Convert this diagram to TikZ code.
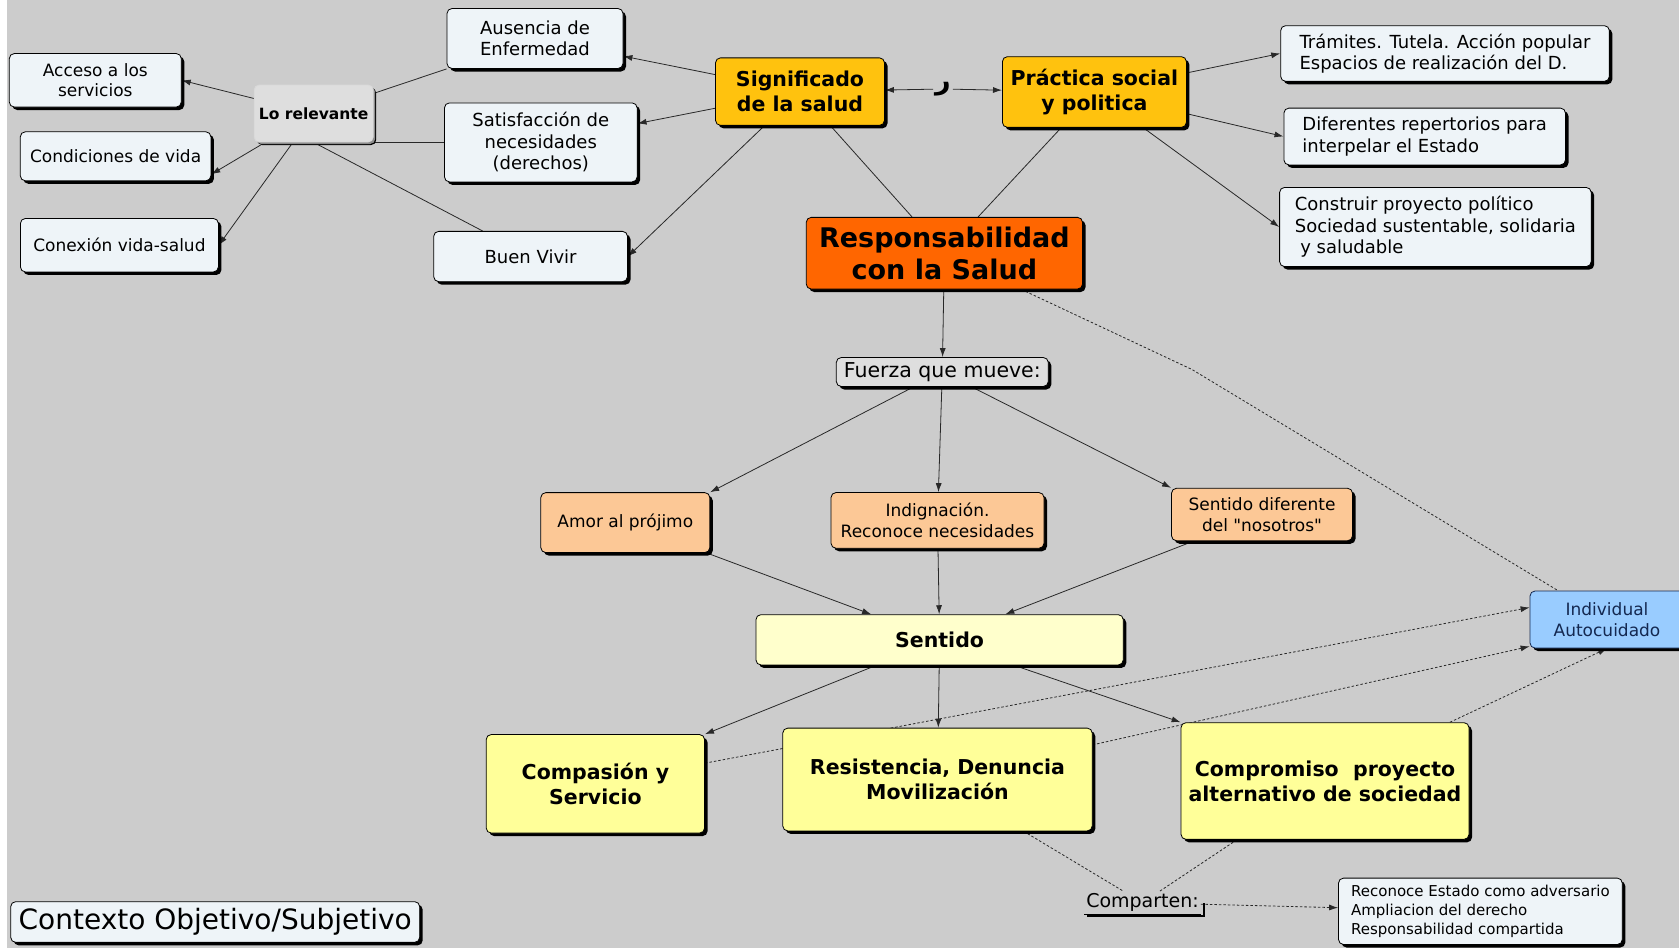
\documentclass[tikz,border=0pt]{standalone}
\usepackage{fontspec}
\setmainfont{DejaVu Sans}[Ligatures=TeXOff]
\newfontfamily\arabe[Script=Arabic]{DejaVu Sans}
\TeXXeTstate=1
\usetikzlibrary{arrows.meta,shadows}

% Colores del mapa
\definecolor{grisfondo}{RGB}{204,204,204}
\definecolor{blanquito}{RGB}{238,244,248}
\definecolor{grisclaro}{RGB}{222,222,222}
\definecolor{dorado}{RGB}{255,194,14}
\definecolor{naranja}{RGB}{255,102,0}
\definecolor{durazno}{RGB}{252,200,150}
\definecolor{crema}{RGB}{255,255,204}
\definecolor{amarillo}{RGB}{255,255,153}
\definecolor{celeste}{RGB}{153,204,255}
\definecolor{azuloscuro}{RGB}{20,40,80}
\definecolor{linea}{RGB}{40,40,40}

\pgfdeclarelayer{capafondo}
\pgfdeclarelayer{capalineas}
\pgfsetlayers{capafondo,capalineas,main}

\tikzset{
    caja/.style={draw=black, line width=0.8pt, rounded corners=5pt, fill=blanquito,
        align=center, inner sep=0pt, font=\fontsize{18}{21.5}\selectfont,
        drop shadow={shadow xshift=3pt, shadow yshift=-3pt, opacity=1, fill=black}},
    medida/.style 2 args={minimum width=#1pt, minimum height=#2pt},
    chica/.style={font=\fontsize{17}{20.5}\selectfont},
    negrita/.style={font=\fontsize{20.5}{25}\selectfont\bfseries},
    enlace/.style={draw=linea, line width=0.8pt},
    flecha/.style={enlace, -{Latex[length=9pt,width=6pt]}},
    punteado/.style={enlace, dash pattern=on 2.5pt off 2pt},
    puntflecha/.style={punteado, -{Latex[length=9pt,width=6pt]}}
}

\begin{document}
\begin{tikzpicture}[x=1pt, y=-1pt]

    % Pintamos el fondo
    \useasboundingbox (0,0) rectangle (1679,948);
    \begin{pgfonlayer}{capafondo}
        \fill[white] (0,0) rectangle (1679,948);
        \fill[grisfondo] (7,0) rectangle (1679,948);
    \end{pgfonlayer}

    % Lo relevante y sus conceptos
    \node[caja, medida={176}{60}] (ausencia) at (535,38.5) {Ausencia de\\Enfermedad};
    \node[caja, chica, medida={172}{53.5}] (acceso) at (95.3,80.3) {Acceso a los\\servicios};
    \node[caja, medida={119}{57}, fill=grisclaro, draw=white!85!black,
        drop shadow={shadow xshift=2pt, shadow yshift=-2pt, opacity=1, fill=black!45},
        font=\fontsize{15.5}{18}\selectfont\bfseries] (lorel) at (313.7,113.5) {Lo relevante};
    \node[caja, chica, medida={190.6}{49}] (condiciones) at (115.6,156.3) {Condiciones de vida};
    \node[caja, chica, medida={198}{53.5}] (conexion) at (119.4,245.2) {Conexión vida-salud};
    \node[caja, medida={192.7}{79}] (satis) at (540.8,142.4) {Satisfacción de\\necesidades\\(derechos)};
    \node[caja, medida={193.8}{50.3}] (buenvivir) at (530.6,256.5) {Buen Vivir};

    % Los dos conceptos de arriba
    \node[caja, negrita, medida={169}{67.5}, fill=dorado] (signif) at (800,91.6) {Significado\\de la salud};
    \node[caja, negrita, medida={184}{70.7}, fill=dorado] (practica) at (1094.4,92) {Práctica social\\y politica};
    \node[inner sep=2pt, font=\fontsize{27}{27}\selectfont\bfseries] (signo) at (943,89) {\arabe\beginR ر\endR};

    % Práctica social: a la derecha
    \node[caja, align=left, medida={328.7}{55.7}] (tramites) at (1445,53.5)
        {Trámites. Tutela. Acción popular\\Espacios de realización del D.};
    \node[caja, align=left, medida={281.6}{56.8}] (diferentes) at (1424.7,136.5)
        {Diferentes repertorios para\\interpelar el Estado};
    \node[caja, align=left, medida={311.6}{79.2}] (construir) at (1435.4,227)
        {Construir proyecto político\\Sociedad sustentable, solidaria\\\hspace*{0.3em}y saludable};

    % Centro del mapa
    \node[caja, medida={276.3}{71.7}, fill=naranja, font=\fontsize{27}{32}\selectfont\bfseries] (resp)
        at (944.4,253.2) {Responsabilidad\\con la Salud};
    \node[caja, medida={212}{29}, fill=grisclaro, font=\fontsize{20.5}{24}\selectfont] (fuerza)
        at (942.3,372) {Fuerza que mueve:};

    % Fuerzas
    \node[caja, chica, medida={169}{60}, fill=durazno] (amor) at (625.3,522.6) {Amor al prójimo};
    \node[caja, chica, medida={213}{55.7}, fill=durazno] (indig) at (937.5,520.4) {Indignación.\\Reconoce necesidades};
    \node[caja, chica, medida={181}{52.5}, fill=durazno] (nosotros) at (1262,514.5)
        {Sentido diferente\\del "nosotros"};

    \node[caja, negrita, medida={367.3}{50.3}, fill=crema] (sentido) at (939.6,639.8) {Sentido};
    \node[caja, chica, medida={154}{57}, fill=celeste, draw=azuloscuro, text=azuloscuro] (individual)
        at (1607,619.5) {Individual\\Autocuidado};

    % Sentido: las tres formas
    \node[caja, negrita, medida={218.4}{98.5}, fill=amarillo] (compasion) at (595.4,783.8) {Compasión y\\Servicio};
    \node[caja, negrita, medida={309.5}{102.8}, fill=amarillo] (resistencia) at (937.5,779.5) {Resistencia, Denuncia\\Movilización};
    \node[caja, negrita, medida={288}{116.7}, fill=amarillo] (compromiso) at (1325,781) {Compromiso~~proyecto\\alternativo de sociedad};

    % Lo que comparten
    \node[inner sep=2pt, font=\fontsize{19}{22}\selectfont] (comparten) at (1142.5,902.7) {Comparten:};
    \draw[line width=0.8pt] (comparten.south west) -- (comparten.south east);
    \draw[line width=2.2pt] ([xshift=3pt,yshift=-2pt]comparten.south west)
        -- ([xshift=3pt,yshift=-2pt]comparten.south east) -- ([xshift=3pt]comparten.east);
    \node[caja, align=left, medida={283.8}{66.4}, font=\fontsize{15}{19}\selectfont] (reconoce)
        at (1480.4,911.3) {Reconoce Estado como adversario\\Ampliacion del derecho\\Responsabilidad compartida};

    \node[caja, medida={409}{40.7}, font=\fontsize{28}{32}\selectfont] (contexto) at (215.2,922)
        {Contexto Objetivo/Subjetivo};

    \coordinate (codo) at (1191.8,369.4);

    % Conectores
    \begin{pgfonlayer}{capalineas}
        \foreach \a/\b in {lorel/ausencia.south west, lorel.south east/satis.west,
                signif/resp, practica/resp}
            \draw[enlace] (\a) -- (\b);
        \draw[enlace] (lorel.south) -- ([xshift=-48pt]buenvivir.north);

        \foreach \a/\b in {lorel/acceso.east, lorel/conexion.east,
                signif/ausencia, signif/satis, signif/buenvivir.east,
                signo/signif, signo/practica,
                practica/tramites.west, practica/diferentes.west, practica/construir.west,
                resp/fuerza, fuerza/amor.north east, fuerza/indig, fuerza/nosotros.north west,
                amor/sentido, indig/sentido, nosotros/sentido,
                sentido/compasion.north east, sentido/resistencia, sentido/compromiso.north west}
            \draw[flecha] (\a) -- (\b);
        \draw[flecha] (lorel) -- ([yshift=-18pt]condiciones.east);

        % Lineas punteadas
        \draw[punteado] (resp) -- (codo) -- ([xshift=-49pt]individual.north);
        \draw[puntflecha] (compasion) -- ([yshift=12pt]individual.west);
        \draw[puntflecha] (resistencia) -- ([yshift=2pt]individual.south west);
        \draw[puntflecha] (compromiso) -- (individual.south);
        \draw[punteado] (resistencia) -- (comparten);
        \draw[punteado] (compromiso) -- (comparten);
        \draw[puntflecha] (comparten) -- (reconoce);
    \end{pgfonlayer}

\end{tikzpicture}
\end{document}
